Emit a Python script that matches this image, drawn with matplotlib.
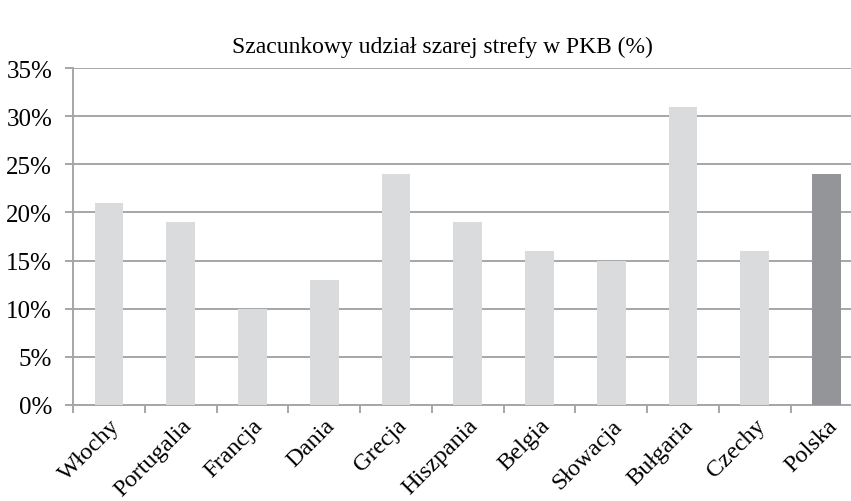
import matplotlib.pyplot as plt
import numpy as np
from matplotlib.ticker import FixedLocator, PercentFormatter

countries = ["Włochy", "Portugalia", "Francja", "Dania", "Grecja", "Hiszpania",
             "Belgia", "Słowacja", "Bułgaria", "Czechy", "Polska"]
shares = [21, 19, 10, 13, 24, 19, 16, 15, 31, 16, 24]
highlight = "Polska"

plt.rcParams['font.family'] = ['Liberation Serif', 'DejaVu Serif']

fig = plt.figure(figsize=(8.51, 5.02), dpi=100)
ax = fig.add_axes([73/851, 96/502, 1 - 73/851, 337/502])

x = np.arange(len(countries))
colors = ['#939598' if c == highlight else '#dadbdc' for c in countries]
ax.bar(x, shares, width=0.4, color=colors, zorder=3)

ax.set_ylim(0, 35)
ax.set_xlim(-0.5, 10.34)
ax.set_yticks(range(0, 36, 5))
ax.yaxis.set_major_formatter(PercentFormatter(decimals=0))
ax.grid(axis='y', color='#a6a6a6', linewidth=1.4, zorder=0)
ax.set_axisbelow(True)

for s in ['top', 'right']:
    ax.spines[s].set_visible(False)
for s in ['left', 'bottom']:
    ax.spines[s].set_color('#a6a6a6')
    ax.spines[s].set_linewidth(1.4)

ax.set_xticks(x)
ax.set_xticklabels(countries, rotation=45, ha='right', rotation_mode='anchor', fontsize=17.5)
ax.xaxis.set_minor_locator(FixedLocator(np.arange(-0.5, 11, 1)))
ax.tick_params(axis='x', which='major', length=0, pad=7)
ax.tick_params(axis='x', which='minor', length=6, width=1.4, color='#a6a6a6')
ax.tick_params(axis='y', length=6, width=1.4, color='#a6a6a6', labelsize=18, pad=9)

fig.text(442/851, 1 - 47/502, "Szacunkowy udział szarej strefy w PKB (%)",
         ha='center', va='center', fontsize=17)

fig.savefig("out.png", dpi=100)
